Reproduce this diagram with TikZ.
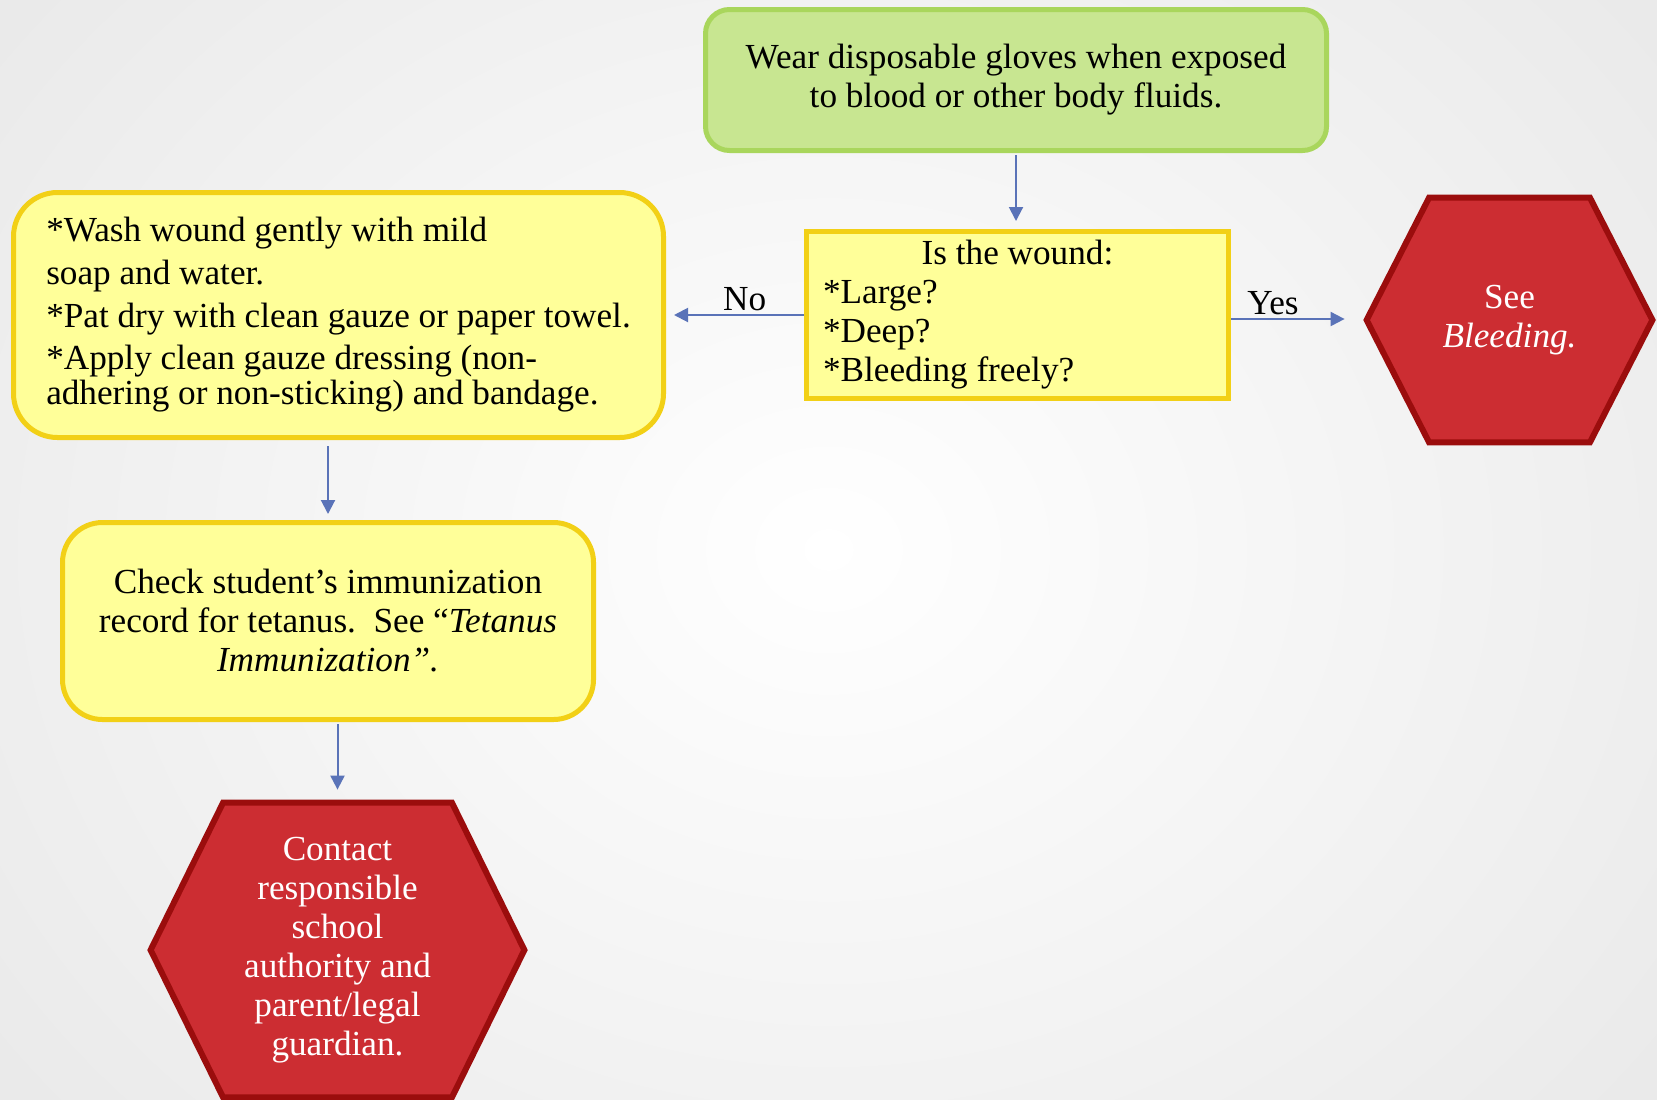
\documentclass[tikz,border=0pt]{standalone}
\usepackage{fontspec}
\setmainfont{Liberation Serif}
\usepackage{xcolor}
\usepackage{tikz}
\usetikzlibrary{calc, backgrounds, arrows.meta, positioning}
\definecolor{glovesfill}{RGB}{200, 230, 145}
\definecolor{glovesline}{RGB}{169, 214, 92}
\definecolor{stepfill}{RGB}{255, 255, 153}
\definecolor{stepline}{RGB}{242, 208, 22}
\definecolor{stopfill}{RGB}{204, 45, 50}
\definecolor{stopline}{RGB}{155, 13, 13}
\definecolor{arrowblue}{RGB}{90, 115, 184}
\tikzset{
    greennode/.style = {draw=glovesline, fill=glovesfill, rectangle, rounded corners=12pt, line width=2.5pt,
      inner sep=0em, node distance=0em, align=center},
    yellownode/.style = {draw=stepline, fill=stepfill, rectangle, line width=2.5pt, inner sep=0em, node distance=0em},
    hextextnode/.style = {draw=none, fill=none, rectangle, text=white, inner sep=0em, node distance=0em, align=center},
    hexline/.style = {draw=stopline, fill=stopfill, line width=3pt, line join=miter},
    labelnode/.style = {draw=none, fill=none, text=black, inner sep=1.5pt},
    connect/.style = {arrowblue, line width=1pt, -{Triangle[length=7pt, width=7pt]}}
}

\begin{document}
\begin{tikzpicture}[x=1pt, y=1pt, font=\fontsize{17.6}{19.5}\selectfont]
    \useasboundingbox (0,0) rectangle (828.5,-549.5);

    \node [name=Gloves, greennode, minimum width=310.5pt, minimum height=70.5pt] at (508,-40)
        {Wear disposable gloves when exposed\\ to blood or other body fluids.};
    \node [name=Wound, yellownode, minimum width=211pt, minimum height=83.5pt, text width=194.5pt, align=flush left,
        below of = Gloves, yshift=-117.5pt, xshift=0.75pt]
        {{\centering Is the wound:\par}*Large?\\{}*Deep?\\{}*Bleeding freely?};
    \node [name=Wash, yellownode, rounded corners=22pt, minimum width=325pt, minimum height=122.5pt, align=left,
        left of = Wound, xshift=-339.5pt, font=\fontsize{17.6}{17.5}\selectfont]
        {*Wash wound gently with mild\\[4pt] soap and water.\\[4pt] *Pat dry with clean gauze or paper towel.\\[3.5pt]
         *Apply clean gauze dressing (non-\\ adhering or non-sticking) and bandage.};
    \node [name=Check, yellownode, rounded corners=20pt, minimum width=265.5pt, minimum height=98.5pt, align=center,
        below of = Wash, yshift=-153pt, xshift=-5.25pt]
        {Check student's immunization\\ record for tetanus.\ \ See ``\textit{Tetanus}\\ \textit{Immunization''.}};

    \node [name=Bleed, hextextnode, minimum width=142.5pt, minimum height=122pt,
        right of = Wound, xshift=246pt, yshift=-2.5pt] {See\\ \textit{Bleeding.}};
    \node [name=Contact, hextextnode, minimum width=186.5pt, minimum height=147pt,
        below of = Check, yshift=-164.5pt, xshift=4.75pt]
        {Contact\\ responsible\\ school\\ authority and\\ parent/legal\\ guardian.};

    \begin{scope}[on background layer]
        \clip (0,0) rectangle (828.5,-549.5);
        \shade [inner color=white, outer color=black!9] (-150,200) rectangle (978.5,-749.5);
        \draw [hexline] (Bleed.west) -- ([xshift=31.25pt]Bleed.north west) -- ([xshift=-31.25pt]Bleed.north east)
            -- (Bleed.east) -- ([xshift=-31.25pt]Bleed.south east) -- ([xshift=31.25pt]Bleed.south west) -- cycle;
        \draw [hexline] (Contact.west) -- ([xshift=36.25pt]Contact.north west) -- ([xshift=-36.25pt]Contact.north east)
            -- (Contact.east) -- ([xshift=-36.25pt]Contact.south east) -- ([xshift=36.25pt]Contact.south west) -- cycle;
    \end{scope}

    % connectors
    \draw [connect, shorten <=1pt, shorten >=4pt] (Gloves.south) -- (Gloves.south |- Wound.north);
    \draw [connect, shorten >=4pt] (Wound.west) -- node[labelnode, above, pos=0.43] {No} (Wound.west -| Wash.east);
    \draw [connect, shorten >=11pt] ([yshift=-2pt]Wound.east) -- node[labelnode, above, pos=0.31] {Yes}
        ([yshift=-2pt]Wound.east -| Bleed.west);
    \draw [connect, shorten <=3pt, shorten >=3pt] (Wash.south -| Check.north) -- (Check.north);
    \draw [connect, shorten <=1pt, shorten >=6.5pt] (Check.south -| Contact.north) -- (Contact.north);
\end{tikzpicture}
\end{document}
